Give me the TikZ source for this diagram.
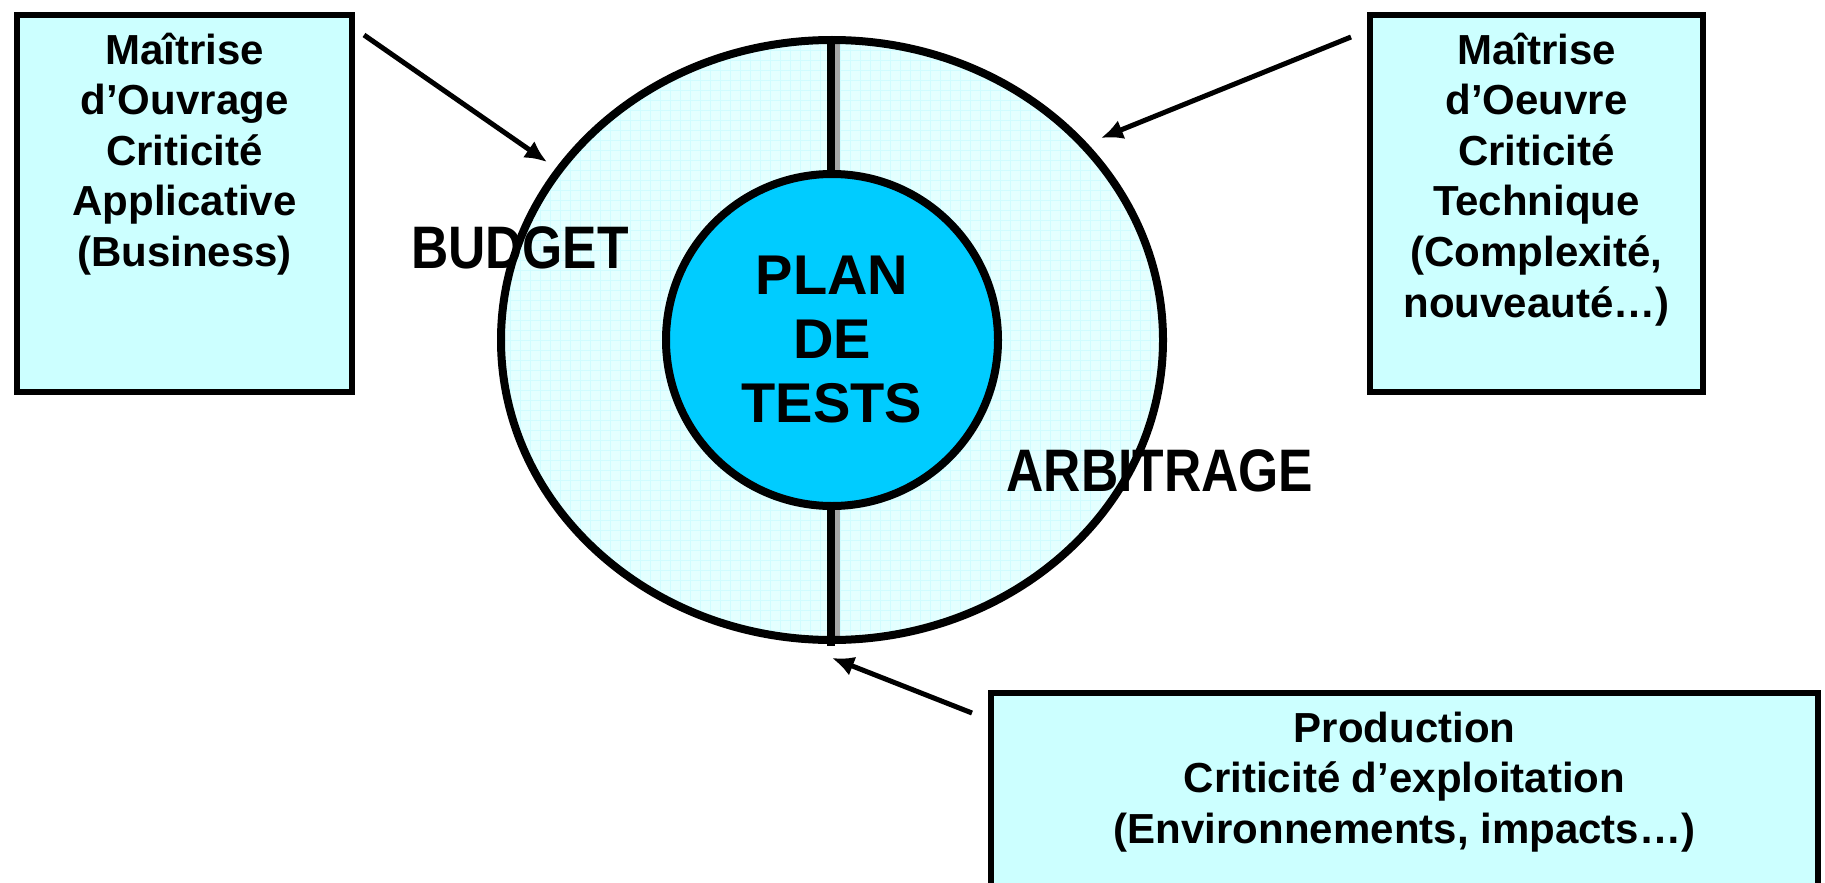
\documentclass[tikz,border=0pt]{standalone}
\usepackage{fontspec}
\setmainfont{Liberation Sans}
\newfontfamily\narrowfont[FakeStretch=0.86]{Liberation Sans}
\usetikzlibrary{shapes.geometric,arrows.meta,positioning}
\definecolor{boxcyan}{RGB}{204,255,255}
\definecolor{ringcyan}{RGB}{228,255,255}
\definecolor{gridcyan}{RGB}{208,252,255}
\definecolor{planblue}{RGB}{0,204,255}
\tikzset
{
    infobox/.style = {rectangle, draw=black, line width=3pt, fill=boxcyan, inner sep=0pt, font=\bfseries\fontsize{21}{25.3}\selectfont},
    ringlabel/.style = {font=\narrowfont\bfseries\fontsize{30}{36}\selectfont},
    planlabel/.style = {circle, draw=black, line width=4pt, fill=planblue, minimum size=166pt, inner sep=0pt, align=center, font=\bfseries\fontsize{28}{32}\selectfont},
    pointer/.style = {line width=2.5pt, -{Latex[length=11pt,width=10pt]}}
}
\newcommand{\boxtext}[3]{\parbox[c][#1][t]{#2}{\centering\rule{0pt}{24.5pt}#3}}

\begin{document}
\begin{tikzpicture}[x=0.5pt, y=-0.5pt]
\clip (0,0) rectangle (1825,883);

\begin{scope}
\clip (832,340) ellipse [x radius=165.5pt, y radius=150pt];
\fill[ringcyan] (480,20) rectangle (1190,660);
\draw[gridcyan, line width=0.4pt] (480,660) grid[step=5pt] (1190,20);
\end{scope}
\draw[line width=4pt] (831,36) -- (831,646);
\draw[gray!70, line width=2.5pt] (837.5,42) -- (837.5,642);
\draw[line width=4pt] (832,340) ellipse [x radius=165.5pt, y radius=150pt];

\node[planlabel] (plan) at (832,340) {PLAN\\DE\\TESTS};
\node[ringlabel] (budget) at (520,248) {BUDGET};
\node[ringlabel] (arbitrage) at (1160,471) {ARBITRAGE};

\node[infobox, anchor=north west] (ouvrage) at (14,12)
    {\boxtext{188.5pt}{167.5pt}{Maîtrise\\d’Ouvrage\\Criticité\\Applicative\\(Business)}};
\node[infobox, anchor=north west] (oeuvre) at (1367,12)
    {\boxtext{188.5pt}{166.5pt}{Maîtrise\\d’Oeuvre\\Criticité\\Technique\\(Complexité,\\nouveauté…)}};
\node[infobox, anchor=north west] (production) at (988,690)
    {\boxtext{110pt}{413.5pt}{Production\\Criticité d’exploitation\\(Environnements, impacts…)}};

\coordinate (fromouvrage) at (364,35);
\coordinate (toouvrage) at (547,162);
\coordinate (fromoeuvre) at (1351,37);
\coordinate (tooeuvre) at (1101,138);
\coordinate (fromproduction) at (972,713);
\coordinate (toproduction) at (832,658);
\draw[pointer] (fromouvrage) -- (toouvrage);
\draw[pointer] (fromoeuvre) -- (tooeuvre);
\draw[pointer] (fromproduction) -- (toproduction);
\end{tikzpicture}
\end{document}
